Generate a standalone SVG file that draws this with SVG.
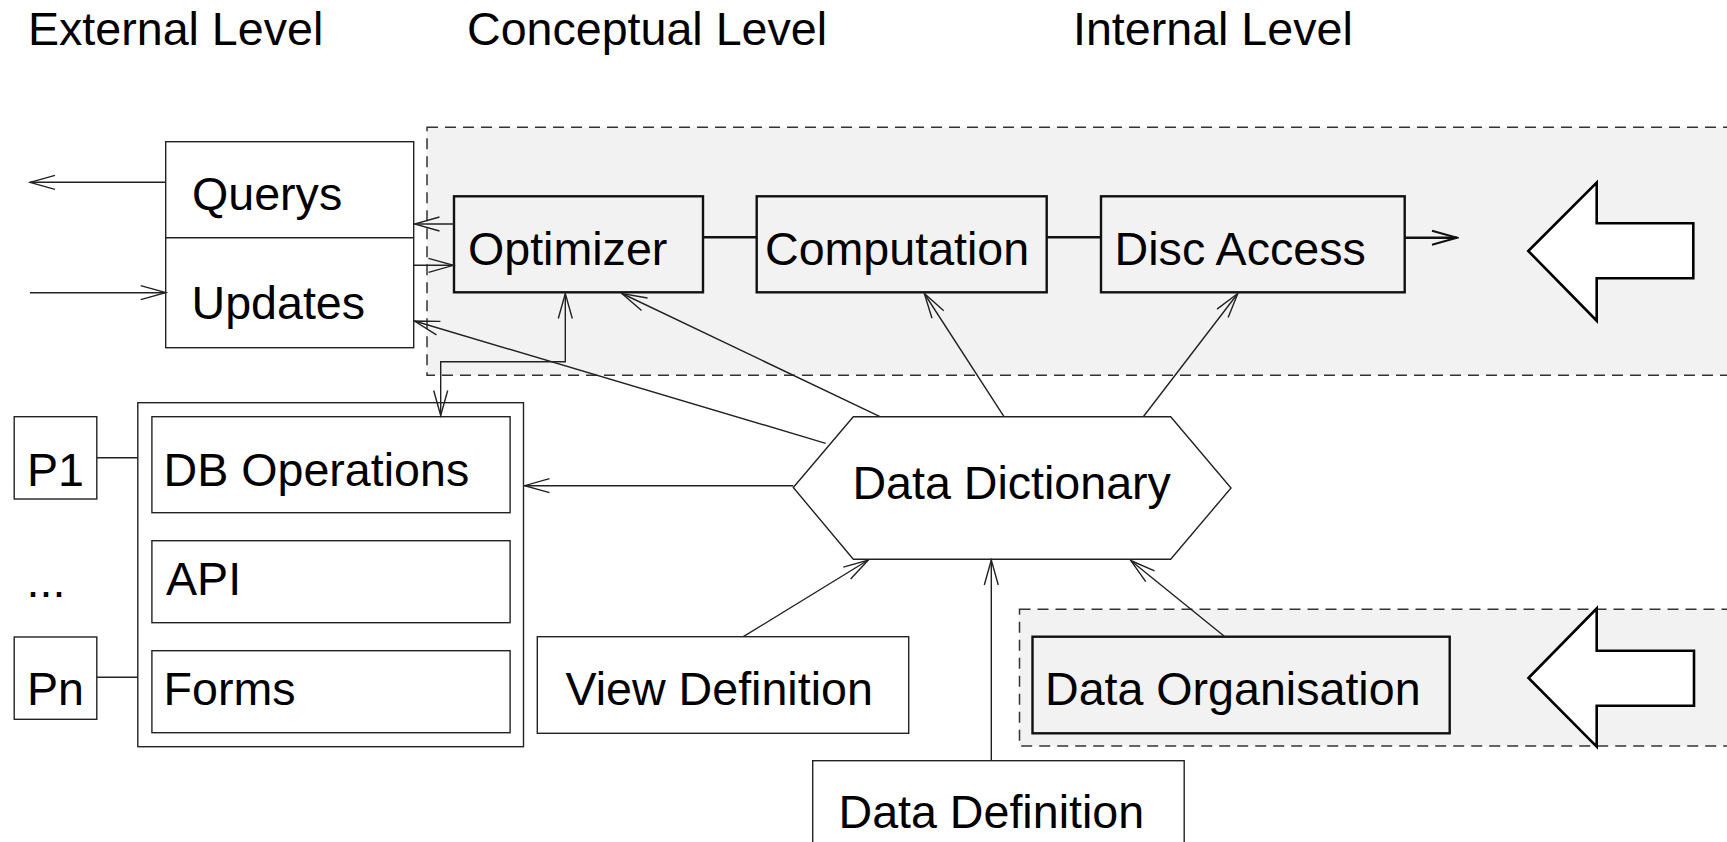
<svg xmlns="http://www.w3.org/2000/svg" width="1727" height="842" viewBox="0 0 1727 842">
<style>
text{font-family:"Liberation Sans",Arial,Helvetica,sans-serif;font-size:46.6px;fill:#000}
.thin{fill:#fff;stroke:#222;stroke-width:1.4}
.thick{fill:#f2f2f2;stroke:#111;stroke-width:2.4}
.region{fill:#f2f2f2;stroke:#333;stroke-width:1.5;stroke-dasharray:11 7}
.big{fill:#fff;stroke:#000;stroke-width:2.6;stroke-linejoin:miter}
.c{fill:none;stroke:#222;stroke-width:1.4}
.ct{fill:none;stroke:#111;stroke-width:2.4}
</style>
<defs>
<marker id="a" markerUnits="userSpaceOnUse" viewBox="-27 -9 29 18" refX="0" refY="0" markerWidth="29" markerHeight="18" orient="auto-start-reverse">
<path d="M-25,-7 L0,0 L-25,7" fill="none" stroke="#222" stroke-width="1.4"/>
</marker>
<marker id="at" markerUnits="userSpaceOnUse" viewBox="-27 -9 29 18" refX="0" refY="0" markerWidth="29" markerHeight="18" orient="auto-start-reverse">
<path d="M-25,-7 L0,0 L-25,7" fill="none" stroke="#111" stroke-width="2"/>
</marker>
</defs>
<g id="titles">
<text x="28" y="45">External Level</text>
<text x="467" y="45">Conceptual Level</text>
<text x="1073" y="45">Internal Level</text>
</g>
<g id="internal-region">
<rect class="region" x="427" y="127.3" width="1320" height="248"/>
</g>
<g id="storage-region">
<rect class="region" x="1019.5" y="609.3" width="730" height="136.7"/>
</g>
<g id="querys-updates">
<rect class="thin" x="165.7" y="141.7" width="248" height="206"/>
<line x1="165.7" y1="237.7" x2="413.7" y2="237.7" stroke="#222" stroke-width="1.4"/>
<text x="192" y="210">Querys</text>
<text x="191.5" y="319">Updates</text>
</g>
<g id="optimizer">
<rect class="thick" x="454" y="196.3" width="249" height="96"/>
<text x="468" y="265">Optimizer</text>
</g>
<g id="computation">
<rect class="thick" x="756.7" y="196.3" width="290" height="96"/>
<text x="765" y="265">Computation</text>
</g>
<g id="disc-access">
<rect class="thick" x="1101" y="196.3" width="303.7" height="96"/>
<text x="1114.6" y="265">Disc Access</text>
</g>
<g id="big-arrow-1">
<polygon class="big" points="1528.3,251 1596.7,182.7 1596.7,223.3 1693.3,223.3 1693.3,278.3 1596.7,278.3 1596.7,320.7"/>
</g>
<g id="big-arrow-2">
<polygon class="big" points="1528.5,678 1596.7,608.5 1596.7,650.7 1694,650.7 1694,705.7 1596.7,705.7 1596.7,746.7"/>
</g>
<g id="p1">
<rect class="thin" x="14.2" y="416.7" width="82.6" height="82.3"/>
<text x="27" y="485.7">P1</text>
</g>
<g id="dots">
<text x="26.6" y="596.7">...</text>
</g>
<g id="pn">
<rect class="thin" x="14.2" y="637" width="82.6" height="82.3"/>
<text x="27" y="705">Pn</text>
</g>
<g id="external-container">
<rect class="thin" x="137.8" y="402.7" width="385.7" height="344"/>
</g>
<g id="db-operations">
<rect class="thin" x="151.9" y="416.7" width="358.2" height="96"/>
<text x="163.6" y="485.7">DB Operations</text>
</g>
<g id="api">
<rect class="thin" x="151.9" y="540.7" width="358.2" height="82"/>
<text x="166" y="595">API</text>
</g>
<g id="forms">
<rect class="thin" x="151.9" y="650.7" width="358.2" height="82"/>
<text x="163.6" y="705">Forms</text>
</g>
<g id="data-dictionary">
<polygon class="thin" points="793.3,487.5 853.3,416.7 1170.7,416.7 1231,488 1170.7,559.3 853.3,559.3"/>
<text x="852.4" y="499">Data Dictionary</text>
</g>
<g id="view-definition">
<rect class="thin" x="537.3" y="636.7" width="371.4" height="96.6"/>
<text x="565.5" y="705">View Definition</text>
</g>
<g id="data-definition">
<rect class="thin" x="812.7" y="760.7" width="371.5" height="100"/>
<text x="838.5" y="828.3">Data Definition</text>
</g>
<g id="data-organisation">
<rect class="thick" x="1032.5" y="636.7" width="417.2" height="96.6"/>
<text x="1045" y="705">Data Organisation</text>
</g>
<g id="connectors">
<line class="c" x1="165.7" y1="182.3" x2="30" y2="182.3" marker-end="url(#a)"/>
<line class="c" x1="30" y1="292.7" x2="165.7" y2="292.7" marker-end="url(#a)"/>
<line class="c" x1="454" y1="224" x2="414.5" y2="224" marker-end="url(#a)"/>
<line class="c" x1="413.7" y1="265.3" x2="453.5" y2="265.3" marker-end="url(#a)"/>
<polyline class="c" points="565.3,293.5 565.3,361.7 440.7,361.7 440.7,415.5" marker-start="url(#a)" marker-end="url(#a)"/>
<line class="c" x1="825.7" y1="443.3" x2="414.5" y2="321" marker-end="url(#a)"/>
<line class="c" x1="880" y1="416.7" x2="622" y2="293.5" marker-end="url(#a)"/>
<line class="c" x1="1004" y1="416.7" x2="924.3" y2="293.5" marker-end="url(#a)"/>
<line class="c" x1="1143.3" y1="416.7" x2="1237.8" y2="293.5" marker-end="url(#a)"/>
<line class="c" x1="793.3" y1="485.7" x2="524.5" y2="485.7" marker-end="url(#a)"/>
<line class="c" x1="97" y1="457.7" x2="137.8" y2="457.7"/>
<line class="c" x1="97" y1="677.3" x2="137.8" y2="677.3"/>
<line class="c" x1="743.3" y1="636.7" x2="868.3" y2="560" marker-end="url(#a)"/>
<line class="c" x1="991.3" y1="760.7" x2="991.3" y2="560" marker-end="url(#a)"/>
<line class="c" x1="1224.9" y1="636.7" x2="1130.7" y2="560.5" marker-end="url(#a)"/>
<line class="ct" x1="703" y1="237.3" x2="756.7" y2="237.3"/>
<line class="ct" x1="1046.7" y1="237.3" x2="1101" y2="237.3"/>
<line class="ct" x1="1404.7" y1="237.7" x2="1457" y2="237.7" marker-end="url(#at)"/>
</g>
</svg>
